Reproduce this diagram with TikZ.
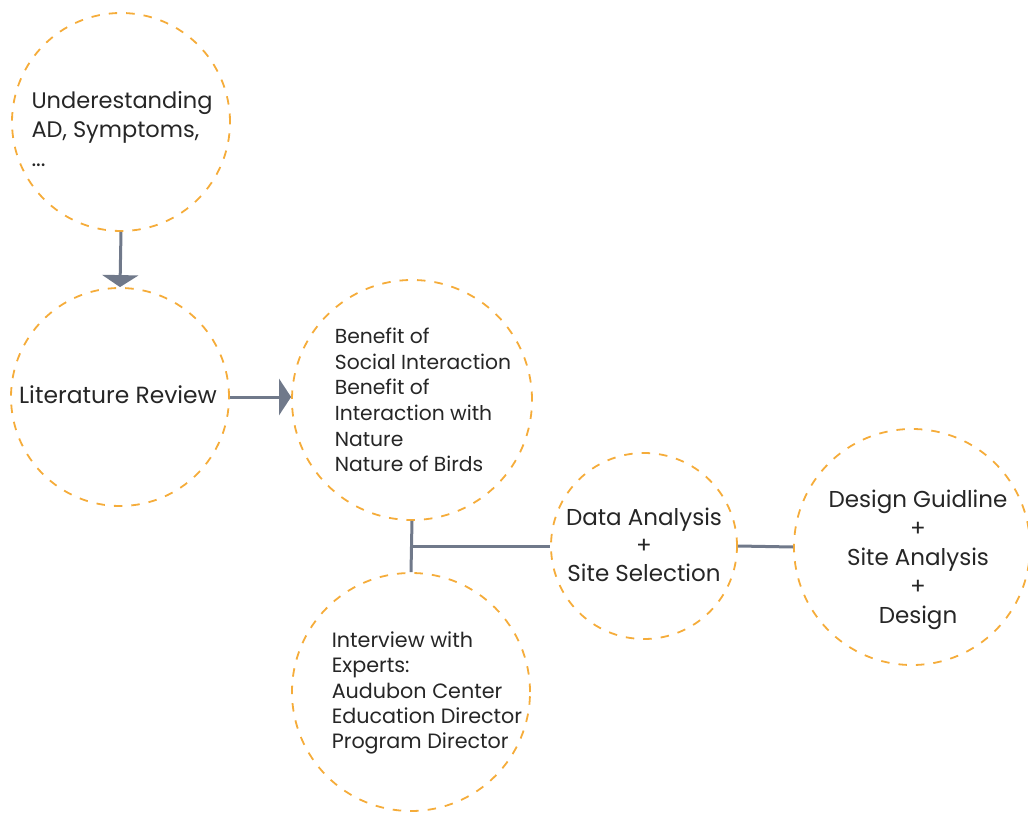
\documentclass[tikz,border=0pt]{standalone}
\usepackage{fontspec}
\setmainfont{Poppins}
\usetikzlibrary{arrows.meta}
\definecolor{ringorange}{RGB}{245,172,58}
\definecolor{linkgray}{RGB}{112,121,138}
\tikzset{
  ring/.style={circle, draw=ringorange, dash pattern=on 8.5pt off 9pt, line width=1.8pt, inner sep=0pt},
  link/.style={draw=linkgray, line width=3pt},
  txt/.style={align=left, text=black!85}
}

\begin{document}
\begin{tikzpicture}[x=1pt, y=-1pt]
	\useasboundingbox (0,0) rectangle (1028,813);

	\foreach \n / \x / \y / \r in {under/121/122/109, lit/120/397/109, benefit/412/400/120, interview/411/692/119, data/644/546/93, design/912/547/118} {
	\node[ring, minimum size={2*\r pt}] (\n) at (\x, \y) {};
	}

	\node[txt, font=\fontsize{22.5}{29}\selectfont] (under-txt) at (122,129) {Underestanding\\AD, Symptoms,\\...};
	\node[txt, font=\fontsize{23.4}{29}\selectfont] (lit-txt) at (118,395) {Literature Review};
	\node[txt, font=\fontsize{20.3}{25.7}\selectfont] (benefit-txt) at (423,400) {Benefit of\\Social Interaction\\Benefit of\\Interaction with\\Nature\\Nature of Birds};
	\node[txt, font=\fontsize{20.7}{25.2}\selectfont] (interview-txt) at (427,693) {Interview with\\Experts:\\Audubon Center\\Education Director\\Program Director};
	\node[txt, align=center, font=\fontsize{23}{28}\selectfont] (data-txt) at (644,545) {Data Analysis\\+\\Site Selection};
	\node[txt, align=center, font=\fontsize{23}{29}\selectfont] (design-txt) at (918,560) {Design Guidline\\+\\Site Analysis\\+\\Design};

	\draw[link, -{Triangle[width=36pt, length=12pt]}] (under.south) -- (lit.north);
	\draw[link, -{Triangle[width=36pt, length=12pt]}] (lit.east) -- (lit.east -| benefit.west);

	\coordinate (fork) at (benefit.south |- data.west);
	\draw[link] (benefit.south) -- (interview.north);
	\draw[link] (fork) -- (data.west);
	\draw[link] (data.east) -- (design.west);

\end{tikzpicture}
\end{document}
